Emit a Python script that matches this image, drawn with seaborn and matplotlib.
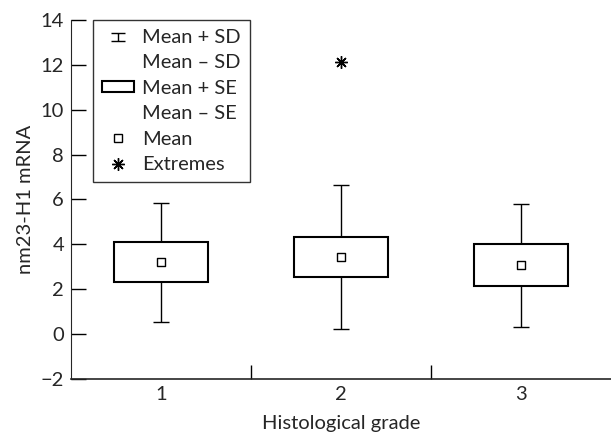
import numpy as np
import pandas as pd
import matplotlib
matplotlib.use("Agg")
import matplotlib.pyplot as plt
import seaborn as sns
from matplotlib.path import Path
from matplotlib.lines import Line2D
from matplotlib.patches import Patch

# Valeurs
grades = ["1", "2", "3"]
mean_vals = [3.19, 3.43, 3.07]
se_low = [2.30, 2.55, 2.14]
se_high = [4.11, 4.31, 4.01]
sd_low = [0.53, 0.22, 0.31]
sd_high = [5.85, 6.65, 5.79]
extreme_grade = ["2"]
extreme_vals = [12.12]

df = pd.DataFrame({"grade": grades, "mean": mean_vals,
                   "se_lo": se_low, "se_hi": se_high,
                   "sd_lo": sd_low, "sd_hi": sd_high})

sns.set_style("ticks")
plt.rcParams["font.family"] = ["Lato", "DejaVu Sans"]
plt.rcParams["font.size"] = 14.5

fig = plt.figure(figsize=(6.11, 4.36), dpi=100)
ax = fig.add_axes([71 / 611, 57 / 436, 540 / 611, 359.2 / 436])

pos = np.arange(len(df)) + 1

# Ecarts-types (moustaches)
ax.errorbar(pos, df["mean"],
            yerr=[df["mean"] - df["sd_lo"], df["sd_hi"] - df["mean"]],
            fmt="none", ecolor="black", elinewidth=1, capsize=6, capthick=1, zorder=1)

# Erreurs standard (boites)
ax.bar(pos, df["se_hi"] - df["se_lo"], bottom=df["se_lo"], width=0.517,
       facecolor="white", edgecolor="black", linewidth=1.5, zorder=2)

# Moyennes
sns.scatterplot(x=pos, y=df["mean"], marker="s", s=40, facecolor="white",
                edgecolor="black", linewidth=1, ax=ax, zorder=3)

# Valeurs extremes
ext_pos = [grades.index(g) + 1 for g in extreme_grade]
ax.plot(ext_pos, extreme_vals, linestyle="none", marker=(8, 2, 0),
        markersize=9, markeredgewidth=1, color="black", zorder=3)

ax.set_xlim(0.5, 3.5)
ax.set_ylim(-2, 14)
ax.set_yticks(np.arange(-2, 15, 2))
ax.set_xticks(pos)
ax.set_xticklabels(grades)
ax.set_xticks([1.5, 2.5], minor=True)
ax.tick_params(axis="x", which="major", length=0, pad=5)
ax.tick_params(axis="x", which="minor", direction="in", length=10, width=1, color="black")
ax.tick_params(axis="y", direction="in", length=10.5, width=1, pad=5, color="black")
sns.despine(ax=ax)
ax.spines["left"].set_linewidth(0.8)
ax.spines["bottom"].set_linewidth(1.2)
ax.set_xlabel("Histological grade", labelpad=9)
ax.set_ylabel("nm23-H1 mRNA", labelpad=5)

# Legende
ibeam = Path([(-1, 0.6), (1, 0.6), (0, 0.6), (0, -0.6), (-1, -0.6), (1, -0.6)],
             [Path.MOVETO, Path.LINETO, Path.MOVETO, Path.LINETO, Path.MOVETO, Path.LINETO])
empty = Line2D([], [], linestyle="none", marker="none")
handles = [
    Line2D([], [], linestyle="none", marker=ibeam, markersize=10,
           markeredgewidth=1, color="black"),
    empty,
    Patch(facecolor="white", edgecolor="black", linewidth=1.5),
    empty,
    Line2D([], [], linestyle="none", marker="s", markersize=5.5,
           markerfacecolor="white", markeredgecolor="black", markeredgewidth=1),
    Line2D([], [], linestyle="none", marker=(8, 2, 0), markersize=9,
           markeredgewidth=1, color="black"),
]
labels = ["Mean + SD", "Mean \u2013 SD", "Mean + SE", "Mean \u2013 SE", "Mean", "Extremes"]
leg = ax.legend(handles, labels, loc="upper left", bbox_to_anchor=(22 / 540, 1.0),
                borderaxespad=0, frameon=True, fancybox=False, handlelength=1.6,
                handleheight=0.45, handletextpad=0.4, labelspacing=0.42, borderpad=0.45)
leg.get_frame().set_edgecolor("black")
leg.get_frame().set_linewidth(1)

fig.savefig("out.png", dpi=100)
